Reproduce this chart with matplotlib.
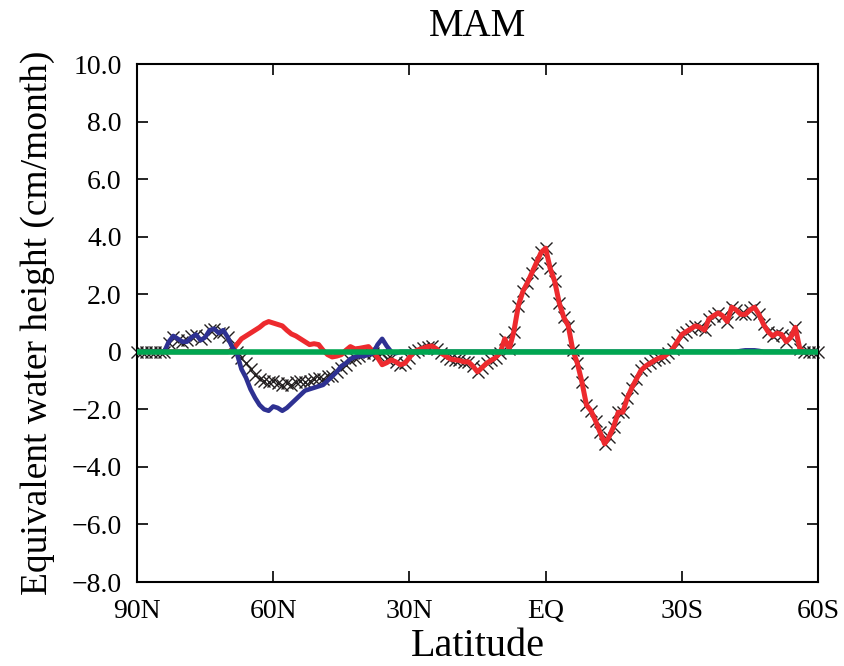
"""MAM zonal equivalent water height profile."""
import matplotlib
matplotlib.use("Agg")
import matplotlib.pyplot as plt
import numpy as np

# latitude grid, 1 degree steps from 90N to 60S
lat = np.arange(90, -61, -1)

# red series (90N .. 60S)
red = [0, 0, 0, 0, 0, 0, 0, 0, 0, 0,                                   # 90..81
       0, 0, 0, 0, 0, 0, 0, 0, 0, 0,                                   # 80..71
       0, 0.05, 0.25, 0.45, 0.55, 0.65, 0.75, 0.85, 0.98, 1.05,        # 70..61
       1.0, 0.95, 0.9, 0.75, 0.62, 0.55, 0.45, 0.35, 0.25, 0.28,       # 60..51
       0.25, 0.05, -0.1, -0.18, -0.15, -0.1, 0.05, 0.18, 0.1, 0.12,    # 50..41
       0.15, 0.18, 0.0, -0.2, -0.45, -0.38, -0.28, -0.35, -0.45, -0.4, # 40..31
       -0.2, 0.0, 0.07, 0.12, 0.18, 0.2, 0.1, -0.05, -0.15, -0.25,     # 30..21
       -0.28, -0.3, -0.35, -0.35, -0.5, -0.7, -0.55, -0.4, -0.3, -0.2, # 20..11
       -0.03, 0.45, 0.1, 0.7, 1.6, 2.1, 2.4, 2.75, 3.1, 3.45,          # 10..1
       3.6,                                                            # EQ
       2.9, 2.45, 1.7, 1.2, 0.9, 0.05, -0.4, -1.05, -1.85, -2.05,      # 1S..10S
       -2.4, -2.8, -3.2, -2.95, -2.6, -2.1, -2.1, -1.6, -1.25, -0.95,  # 11S..20S
       -0.65, -0.5, -0.4, -0.3, -0.22, -0.18, -0.05, 0.1, 0.35, 0.6,   # 21S..30S
       0.7, 0.8, 0.9, 0.85, 0.75, 1.15, 1.25, 1.35, 1.25, 1.05,        # 31S..40S
       1.55, 1.45, 1.3, 1.3, 1.45, 1.55, 1.3, 0.95, 0.7, 0.55,         # 41S..50S
       0.65, 0.6, 0.35, 0.5, 0.85, 0.1, 0, 0, 0, 0]                    # 51S..60S

# blue series
blue = [0, 0, 0, 0, 0, 0, 0, 0.35, 0.55, 0.45,                         # 90..81
        0.35, 0.35, 0.5, 0.6, 0.4, 0.5, 0.75, 0.8, 0.65, 0.75,         # 80..71
        0.5, 0.15, -0.05, -0.6, -0.9, -1.3, -1.6, -1.85, -2.0, -2.05,  # 70..61
        -1.9, -1.95, -2.05, -1.95, -1.8, -1.65, -1.5, -1.35, -1.3, -1.25,  # 60..51
        -1.2, -1.15, -1.0, -0.85, -0.7, -0.5, -0.4, -0.25, -0.18, -0.15,   # 50..41
        -0.15, -0.1, -0.05, 0.25, 0.45, 0.2, 0.0, -0.05, 0, 0,         # 40..31
        0, 0, 0, 0, 0, 0, 0, 0, 0, 0,                                  # 30..21
        0, 0, 0, 0, 0, 0, 0, 0, 0, 0,                                  # 20..11
        0, 0, 0, 0, 0, 0, 0, 0, 0, 0,                                  # 10..1
        0,                                                             # EQ
        0, 0, 0, 0, 0, 0, 0, 0, 0, 0,                                  # 1S..10S
        0, 0, 0, 0, 0, 0, 0, 0, 0, 0,                                  # 11S..20S
        0, 0, 0, 0, 0, 0, 0, 0, 0, 0,                                  # 21S..30S
        0, 0, 0, 0, 0, 0, 0, 0, 0, 0,                                  # 31S..40S
        0, 0, 0.03, 0.05, 0.05, 0.05, 0.03, 0, 0, 0,                   # 41S..50S
        0, 0, 0, 0, 0, 0, 0, 0, 0, 0]                                  # 51S..60S

# black crosses (total)
black = [0, 0, 0, 0, 0, 0, 0, 0.3, 0.5, 0.4,                           # 90..81
         0.35, 0.4, 0.55, 0.6, 0.45, 0.55, 0.75, 0.8, 0.65, 0.7,       # 80..71
         0.5, 0.2, 0.0, -0.2, -0.4, -0.6, -0.8, -0.95, -1.0, -1.05,    # 70..61
         -1.0, -1.1, -1.15, -1.1, -1.15, -1.05, -1.0, -1.05, -1.0, -0.95,  # 60..51
         -0.9, -0.95, -0.85, -0.85, -0.7, -0.55, -0.45, -0.3, -0.2, -0.15, # 50..41
         -0.05, 0.0, -0.05, -0.1, -0.05, -0.25, -0.2, -0.35, -0.45, -0.4,  # 40..31
         -0.2, 0.0, 0.07, 0.12, 0.18, 0.2, 0.1, -0.05, -0.15, -0.25,   # 30..21
         -0.28, -0.3, -0.35, -0.35, -0.5, -0.7, -0.55, -0.4, -0.3, -0.2,  # 20..11
         -0.03, 0.45, 0.1, 0.7, 1.6, 2.1, 2.4, 2.75, 3.1, 3.45,        # 10..1
         3.6,                                                          # EQ
         2.9, 2.45, 1.7, 1.2, 0.9, 0.05, -0.4, -1.05, -1.85, -2.05,    # 1S..10S
         -2.4, -2.8, -3.2, -2.95, -2.6, -2.1, -2.1, -1.6, -1.25, -0.95,  # 11S..20S
         -0.65, -0.5, -0.4, -0.3, -0.22, -0.18, -0.05, 0.1, 0.35, 0.6, # 21S..30S
         0.7, 0.8, 0.9, 0.85, 0.75, 1.15, 1.25, 1.35, 1.25, 1.05,      # 31S..40S
         1.55, 1.45, 1.3, 1.3, 1.45, 1.55, 1.3, 0.95, 0.7, 0.55,       # 41S..50S
         0.65, 0.6, 0.35, 0.5, 0.85, 0.1, 0, 0, 0, 0]                  # 51S..60S

green = np.zeros(len(lat))

xtick_pos = [90, 60, 30, 0, -30, -60]
xtick_lab = ["90N", "60N", "30N", "EQ", "30S", "60S"]
ytick_pos = [10, 8, 6, 4, 2, 0, -2, -4, -6, -8]
ytick_lab = ["10.0", "8.0", "6.0", "4.0", "2.0", "0",
             "\u22122.0", "\u22124.0", "\u22126.0", "\u22128.0"]

plt.rcParams['font.family'] = ['Liberation Serif', 'DejaVu Serif']

fig = plt.figure(figsize=(8.44, 6.66), dpi=100)
ax = fig.add_axes([137/844, 1-582/666, 681/844, 518/666])

ax.plot(lat, black, ls='none', marker='x', ms=9, mew=1.0, color='#231f20', clip_on=False, zorder=2)
ax.plot(lat, red, color='#ed2a2e', lw=3.6, zorder=3)
ax.plot(lat, blue, color='#2e3192', lw=3.3, zorder=4)
ax.plot(lat, green, color='#00a651', lw=4.0, zorder=5)

ax.set_xlim(90, -60)
ax.set_ylim(-8, 10)
ax.set_xticks(xtick_pos)
ax.set_xticklabels(xtick_lab)
ax.set_yticks(ytick_pos)
ax.set_yticklabels(ytick_lab)
ax.tick_params(direction='in', length=8, width=1.2, top=True, right=True,
               labelsize=20)
ax.tick_params(axis='x', pad=12)
ax.tick_params(axis='y', pad=11)
for s in ax.spines.values():
    s.set_linewidth(1.5)

ax.set_title("MAM", fontsize=28, pad=20)
ax.set_xlabel("Latitude", fontsize=29, labelpad=3)
ax.set_ylabel("Equivalent water height (cm/month)", fontsize=27, labelpad=12)

fig.savefig("out.png", dpi=100)
